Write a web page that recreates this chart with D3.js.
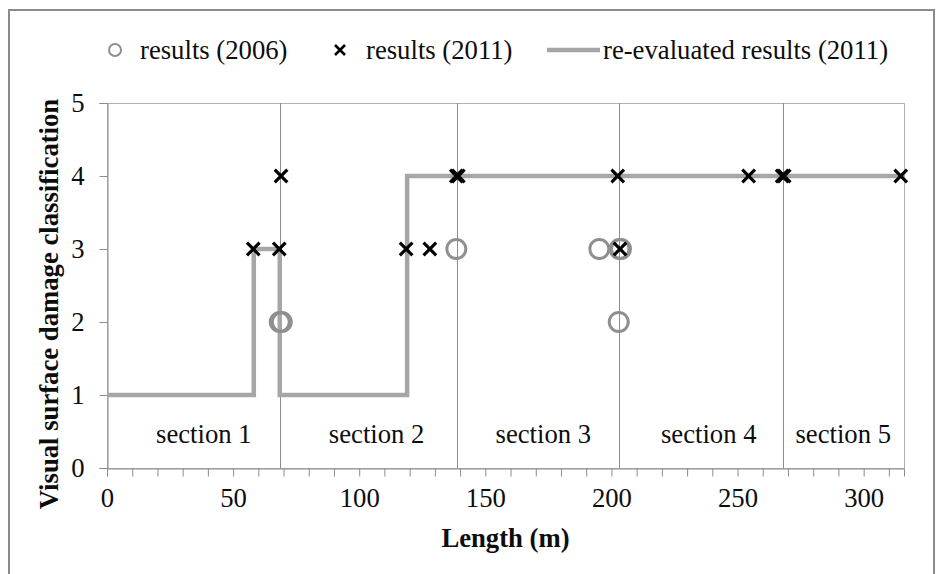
<!DOCTYPE html>
<html><head><meta charset="utf-8">
<script src="https://cdn.jsdelivr.net/npm/d3@7"></script>
<style>
html,body{margin:0;padding:0;background:#fff;}
svg text{font-family:"Liberation Serif","Times New Roman",serif;}
</style></head>
<body><svg id="c" width="941" height="574"></svg>
<script>
// ---- data ----
const yTicks = [0, 1, 2, 3, 4, 5];
const xTicks = [0, 50, 100, 150, 200, 250, 300];
const xMinorStep = 10;
const xMax = 316;
const results2006X = [68.5, 69.3, 138.5, 195.2, 203.2, 203.8, 202.9];
const results2006Y = [2, 2, 3, 3, 3, 3, 2];
const results2011X = [58, 68.3, 69, 118.6, 128, 138.5, 139.3, 202.5, 203.4, 254.4, 267.7, 268.5, 314.7];
const results2011Y = [3, 3, 4, 3, 3, 4, 4, 4, 3, 4, 4, 4, 4];
const reevalX = [0, 58.2, 58.2, 68.5, 68.5, 119, 119, 316];
const reevalY = [1, 1, 3, 3, 1, 1, 4, 4];
const sectionBounds = [68.5, 138.8, 203, 268.2];
const sectionNames = ["section 1", "section 2", "section 3", "section 4", "section 5"];
const sectionLabelX = [38.4, 106.9, 173, 238.6, 291.9];
const sectionLabelY = 0.34;
const legendNames = ["results (2006)", "results (2011)", "re-evaluated results (2011)"];
const xTitle = "Length (m)";
const yTitle = "Visual surface damage classification";

// ---- layout ----
const svg = d3.select("#c");
const L = 107, R = 904, T = 103, B = 468;
const x = d3.scaleLinear().domain([0, xMax]).range([L, R]);
const y = d3.scaleLinear().domain([0, 5]).range([B, T]);
const FS = 26.7;
const axisGray = "#8c8c8c";
const textCol = "#0d0d0d";

// outer border
svg.append("rect").attr("x", 9).attr("y", 10).attr("width", 925).attr("height", 600)
  .attr("fill", "none").attr("stroke", "#8a8a8a").attr("stroke-width", 2);

// plot area border
svg.append("rect").attr("x", L + 0.5).attr("y", T + 0.5).attr("width", R - L).attr("height", B - T)
  .attr("fill", "none").attr("stroke", "#b0b0b0").attr("stroke-width", 1);

// section lines
svg.append("g").selectAll("line").data(sectionBounds).join("line")
  .attr("x1", d => Math.round(x(d)) + 0.5).attr("x2", d => Math.round(x(d)) + 0.5)
  .attr("y1", T).attr("y2", B)
  .attr("stroke", "#8c8c8c").attr("stroke-width", 1);

// y axis
const yAxis = d3.axisLeft(y).tickValues(yTicks).tickSize(8).tickPadding(10).tickFormat(d3.format("d"));
const gy = svg.append("g").attr("transform", `translate(${L + 0.5},0)`).call(yAxis);
gy.select(".domain").attr("stroke", axisGray);
gy.selectAll(".tick line").attr("stroke", axisGray);
gy.selectAll(".tick text").attr("font-size", FS).attr("fill", textCol)
  .attr("font-family", "Liberation Serif").attr("x", -23);

// x axis minor+major ticks
const allTicks = d3.range(0, xMax + 0.01, xMinorStep);
const xAxisMinor = d3.axisBottom(x).tickValues(allTicks).tickSize(8).tickFormat("");
const gxm = svg.append("g").attr("transform", `translate(0,${B + 0.5})`).call(xAxisMinor);
gxm.select(".domain").attr("stroke", axisGray);
gxm.selectAll(".tick line").attr("stroke", axisGray);
const xAxis = d3.axisBottom(x).tickValues(xTicks).tickSize(0).tickPadding(20).tickFormat(d3.format("d"));
const gx = svg.append("g").attr("transform", `translate(0,${B + 0.5})`).call(xAxis);
gx.select(".domain").remove();
gx.selectAll(".tick text").attr("font-size", FS).attr("fill", textCol).attr("font-family", "Liberation Serif");

// reevaluated line
const lineData = reevalX.map((d, i) => [d, reevalY[i]]);
svg.append("path").datum(lineData)
  .attr("d", d3.line().x(d => x(d[0])).y(d => y(d[1])))
  .attr("fill", "none").attr("stroke", "#a6a6a6").attr("stroke-width", 4.5)
  .attr("stroke-linejoin", "miter");

// circles 2006
svg.append("g").selectAll("circle").data(results2006X.map((d, i) => [d, results2006Y[i]])).join("circle")
  .attr("cx", d => x(d[0])).attr("cy", d => y(d[1])).attr("r", 9.5)
  .attr("fill", "none").attr("stroke", "#8f8f8f").attr("stroke-width", 3);

// crosses 2011
const cross = (g, s) => g.append("path").attr("d", `M${-s},${-s}L${s},${s}M${-s},${s}L${s},${-s}`);
const cg = svg.append("g");
results2011X.forEach((d, i) => {
  const g = cg.append("g").attr("transform", `translate(${x(d)},${y(results2011Y[i])})`);
  cross(g, 6.3).attr("stroke", "#000").attr("stroke-width", 3.2).attr("fill", "none");
});

// section labels
svg.append("g").selectAll("text").data(sectionNames).join("text")
  .attr("x", (d, i) => x(sectionLabelX[i])).attr("y", y(sectionLabelY))
  .attr("text-anchor", "middle").attr("font-size", FS).attr("fill", textCol).text(d => d);

// axis titles
svg.append("text").attr("x", (L + R) / 2).attr("y", 547).attr("text-anchor", "middle")
  .attr("font-size", FS).attr("font-weight", "bold").attr("fill", textCol).text(xTitle);
svg.append("text").attr("transform", "translate(58,304) rotate(-90)").attr("text-anchor", "middle")
  .attr("font-size", FS).attr("font-weight", "bold").attr("fill", textCol).text(yTitle);

// legend
const lg = svg.append("g");
const ly = 50, lbase = 59;
lg.append("circle").attr("cx", 115).attr("cy", ly).attr("r", 6)
  .attr("fill", "none").attr("stroke", "#8f8f8f").attr("stroke-width", 2);
lg.append("text").attr("x", 140).attr("y", lbase).attr("font-size", FS).attr("fill", textCol).text(legendNames[0]);
cross(lg.append("g").attr("transform", `translate(340,${ly})`), 5)
  .attr("stroke", "#000").attr("stroke-width", 2.6).attr("fill", "none");
lg.append("text").attr("x", 366).attr("y", lbase).attr("font-size", FS).attr("fill", textCol).text(legendNames[1]);
lg.append("line").attr("x1", 547).attr("x2", 600).attr("y1", ly).attr("y2", ly)
  .attr("stroke", "#a6a6a6").attr("stroke-width", 4.5);
lg.append("text").attr("x", 603).attr("y", lbase).attr("font-size", FS).attr("fill", textCol).text(legendNames[2]);
</script></body></html>
